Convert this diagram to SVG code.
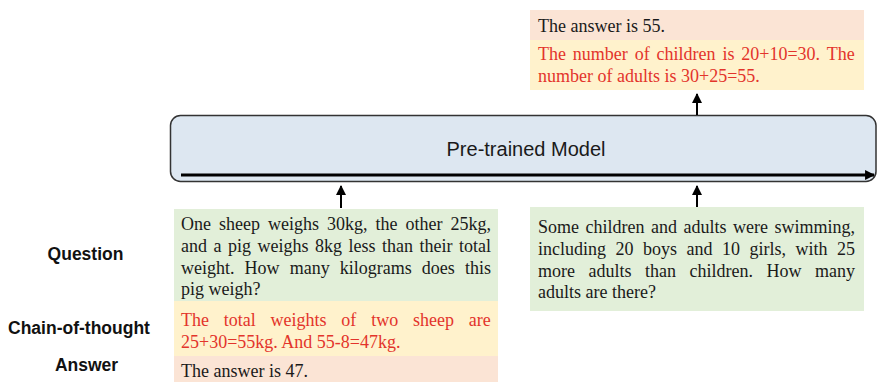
<svg xmlns="http://www.w3.org/2000/svg" width="877" height="382" viewBox="0 0 877 382">
<style>
.serif{font-family:"Liberation Serif","Times New Roman",serif;font-size:18px;fill:#1a1a1a}
.red{fill:#e3342b}
.lbl{font-family:"Liberation Sans",Arial,sans-serif;font-size:17.5px;font-weight:bold;fill:#111;text-anchor:middle}
.green{fill:#e2efd9}
.yellow{fill:#fff2cc}
.pink{fill:#fbe4d5}
.conn{stroke:#000;stroke-width:2;fill:none}
</style>
<defs>
<marker id="ah" viewBox="0 0 10 10" refX="9" refY="5" markerWidth="5" markerHeight="5" orient="auto" markerUnits="strokeWidth">
<path d="M0,0 L10,5 L0,10 z" fill="#000"/>
</marker>
<marker id="ah2" viewBox="0 0 10 10" refX="9" refY="5" markerWidth="3.3" markerHeight="3.3" orient="auto" markerUnits="strokeWidth">
<path d="M0,0 L10,5 L0,10 z" fill="#000"/>
</marker>
</defs>

<g id="model">
<rect x="170.5" y="115.5" width="705.5" height="66" rx="10" ry="10" fill="#dde7f1" stroke="#333" stroke-width="1.5"/>
<text x="526" y="156" font-family="'Liberation Sans',Arial,sans-serif" font-size="20" fill="#1a1a1a" text-anchor="middle">Pre-trained Model</text>
</g>

<g id="labels">
<text class="lbl" x="85.5" y="260">Question</text>
<text class="lbl" x="79" y="334">Chain-of-thought</text>
<text class="lbl" x="86.5" y="371">Answer</text>
</g>

<g id="left-example">
<rect class="green" x="174" y="209" width="324" height="92"/>
<rect class="yellow" x="174" y="301" width="324" height="55"/>
<rect class="pink" x="174" y="356" width="324" height="26"/>
<text class="serif" x="181" y="230" word-spacing="3.5">One sheep weighs 30kg, the other 25kg,</text>
<text class="serif" x="181" y="252" word-spacing="2">and a pig weighs 8kg less than their total</text>
<text class="serif" x="181" y="274" word-spacing="5.6">weight. How many kilograms does this</text>
<text class="serif" x="181" y="295">pig weigh?</text>
<text class="serif red" x="181" y="326" word-spacing="10.3">The total weights of two sheep are</text>
<text class="serif red" x="181" y="348">25+30=55kg. And 55-8=47kg.</text>
<text class="serif" x="181" y="377">The answer is 47.</text>
</g>

<g id="right-question">
<rect class="green" x="530" y="207" width="334" height="104"/>
<text class="serif" x="538" y="233" word-spacing="2">Some children and adults were swimming,</text>
<text class="serif" x="538" y="255" word-spacing="5">including 20 boys and 10 girls, with 25</text>
<text class="serif" x="538" y="277" word-spacing="9">more adults than children. How many</text>
<text class="serif" x="538" y="298">adults are there?</text>
</g>

<g id="right-output">
<rect class="pink" x="530" y="10" width="334" height="30"/>
<rect class="yellow" x="530" y="40" width="334" height="50"/>
<text class="serif" x="538" y="32">The answer is 55.</text>
<text class="serif red" x="538" y="60" word-spacing="2.37">The number of children is 20+10=30. The</text>
<text class="serif red" x="538" y="82">number of adults is 30+25=55.</text>
</g>

<g id="connectors">
<line class="conn" x1="341" y1="208" x2="341" y2="186" marker-end="url(#ah)"/>
<line class="conn" x1="697" y1="207" x2="697" y2="186" marker-end="url(#ah)"/>
<line class="conn" x1="697" y1="115" x2="697" y2="94" marker-end="url(#ah)"/>
<line x1="181" y1="175" x2="874" y2="175" stroke="#000" stroke-width="3" marker-end="url(#ah2)"/>
</g>
</svg>
